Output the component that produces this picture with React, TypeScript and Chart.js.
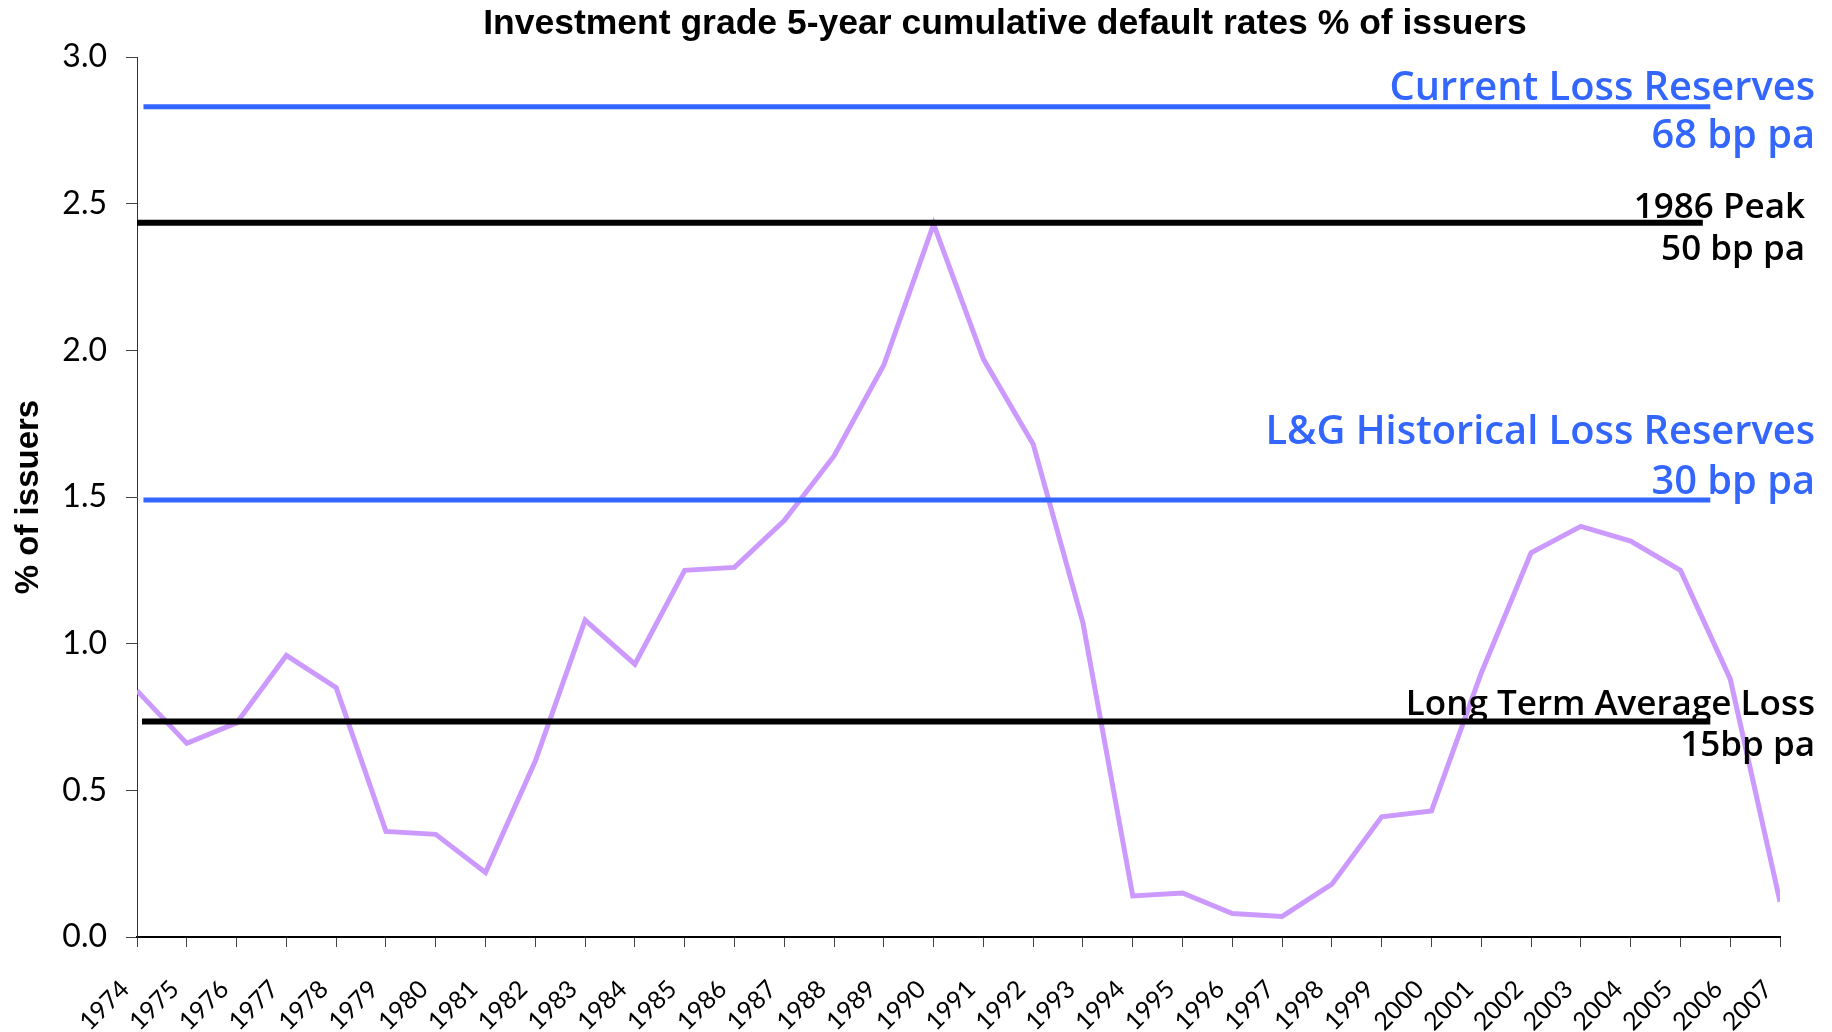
import React, { useEffect, useRef } from "react";
import { Chart, registerables } from "chart.js";

Chart.register(...registerables);

// ---------- data ----------
const years = [
  1974, 1975, 1976, 1977, 1978, 1979, 1980, 1981, 1982, 1983, 1984, 1985,
  1986, 1987, 1988, 1989, 1990, 1991, 1992, 1993, 1994, 1995, 1996, 1997,
  1998, 1999, 2000, 2001, 2002, 2003, 2004, 2005, 2006, 2007,
];
const yearLabels = years.map((y) => String(y));
const defaultRates = [
  0.84, 0.66, 0.73, 0.96, 0.85, 0.36, 0.35, 0.22, 0.6, 1.08, 0.93, 1.25,
  1.26, 1.42, 1.64, 1.95, 2.43, 1.97, 1.68, 1.07, 0.14, 0.15, 0.08, 0.07,
  0.18, 0.41, 0.43, 0.9, 1.31, 1.4, 1.35, 1.25, 0.88, 0.12,
];
const yTickValues = [0, 0.5, 1.0, 1.5, 2.0, 2.5, 3.0];

const refNames = [
  "Current Loss Reserves",
  "1986 Peak",
  "L&G Historical Loss Reserves",
  "Long Term Average Loss",
];
const refValues = [2.83, 2.435, 1.49, 0.735];
const refStartYears = [1974.13, 1974, 1974.13, 1974.1];
const refEndYears = [2005.6, 2005.45, 2005.6, 2005.6];
const refLabelLine1 = [
  "Current Loss Reserves",
  "1986 Peak",
  "L&G Historical Loss Reserves",
  "Long Term Average Loss",
];
const refLabelLine2 = ["68 bp pa", "50 bp pa", "30 bp pa", "15bp pa"];

const titleText = "Investment grade 5-year cumulative default rates % of issuers";
const yAxisTitle = "% of issuers";

// ---------- styles ----------
const PURPLE = "#cc99ff";
const BLUE = "#3366ff";
const BLACK = "#000000";
const refColors = [BLUE, BLACK, BLUE, BLACK];
const refWidths = [5, 6, 5, 6];
const refFonts = [
  "600 39.8px 'Open Sans', sans-serif",
  "600 35px 'Open Sans', sans-serif",
  "600 39.8px 'Open Sans', sans-serif",
  "600 35px 'Open Sans', sans-serif",
];
const refTextRight = [1815, 1805, 1815, 1815];
const refOffset1 = [-18, -15, -67, -16];
const refOffset2 = [30, 27, -17, 25];
const TICK_FONT_FAMILY = "Lato, 'Open Sans', sans-serif";

const annotationPlugin = {
  id: "refAnnotations",
  afterDraw(chart: any) {
    const ctx = chart.ctx;
    const yScale = chart.scales.y;
    const xScale = chart.scales.x;
    ctx.save();

    // x tick labels (rotated)
    ctx.font = `400 25px ${TICK_FONT_FAMILY}`;
    ctx.fillStyle = "#000";
    ctx.textAlign = "right";
    ctx.textBaseline = "middle";
    years.forEach((yr, i) => {
      const px = xScale.getPixelForValue(yr);
      ctx.save();
      ctx.translate(px - 12, chart.chartArea.bottom + 48);
      ctx.rotate(-Math.PI / 4);
      ctx.fillText(yearLabels[i], 0, 0);
      ctx.restore();
    });

    // reference line labels
    refValues.forEach((v, i) => {
      const py = yScale.getPixelForValue(v);
      ctx.font = refFonts[i];
      ctx.fillStyle = refColors[i];
      ctx.textAlign = "right";
      ctx.textBaseline = "middle";
      ctx.fillText(refLabelLine1[i], refTextRight[i], py + refOffset1[i]);
      ctx.fillText(refLabelLine2[i], refTextRight[i], py + refOffset2[i]);
    });

    // chart title
    ctx.font = "bold 35.5px 'Liberation Sans', Arial, sans-serif";
    ctx.fillStyle = "#000";
    ctx.textAlign = "center";
    ctx.textBaseline = "middle";
    ctx.fillText(titleText, 1005, 24);
    ctx.restore();
  },
};

export default function App() {
  const canvasRef = useRef<HTMLCanvasElement | null>(null);

  useEffect(() => {
    const canvas = canvasRef.current;
    if (!canvas) return;

    const refDatasets = refValues.map((v, i) => ({
      label: refNames[i],
      data: [
        { x: refStartYears[i], y: v },
        { x: refEndYears[i], y: v },
      ],
      borderColor: refColors[i],
      backgroundColor: refColors[i],
      borderWidth: refWidths[i],
      pointRadius: 0,
      borderCapStyle: "butt" as const,
      order: 1,
    }));

    const chart = new Chart(canvas, {
      type: "line",
      data: {
        datasets: [
          {
            label: "5-year cumulative default rate",
            data: years.map((yr, i) => ({ x: yr, y: defaultRates[i] })),
            borderColor: PURPLE,
            backgroundColor: PURPLE,
            borderWidth: 5,
            pointRadius: 0,
            tension: 0,
            order: 2,
          },
          ...refDatasets,
        ],
      },
      options: {
        animation: false,
        responsive: false,
        maintainAspectRatio: false,
        layout: { padding: { left: 0, top: 57, right: 52, bottom: 0 } },
        plugins: {
          legend: { display: false },
          tooltip: { enabled: false },
          title: { display: false },
        },
        scales: {
          x: {
            type: "linear",
            min: years[0],
            max: years[years.length - 1],
            afterFit(scale: any) {
              scale.height = 95;
            },
            afterBuildTicks(scale: any) {
              scale.ticks = years.map((y) => ({ value: y }));
            },
            ticks: {
              display: false,
              autoSkip: false,
            },
            grid: {
              display: true,
              drawOnChartArea: false,
              drawTicks: true,
              tickLength: 10,
              color: "#444",
              lineWidth: 1,
            },
            border: { display: true, color: "#000", width: 2 },
          },
          y: {
            type: "linear",
            min: 0,
            max: 3,
            afterFit(scale: any) {
              scale.width = 137;
            },
            afterBuildTicks(scale: any) {
              scale.ticks = yTickValues.map((v) => ({ value: v }));
            },
            ticks: {
              padding: 19,
              color: "#000",
              font: { family: TICK_FONT_FAMILY, size: 32, weight: "400" },
              callback: (v: any) => Number(v).toFixed(1),
            },
            grid: {
              display: true,
              drawOnChartArea: false,
              drawTicks: true,
              tickLength: 11,
              color: "#444",
              lineWidth: 1,
            },
            border: { display: true, color: "#333", width: 1 },
            title: {
              display: true,
              text: yAxisTitle,
              color: "#000",
              font: {
                family: "'Liberation Sans', Arial, sans-serif",
                size: 33,
                weight: "bold",
              },
              padding: { top: 9, bottom: 0 },
            },
          },
        },
      },
      plugins: [annotationPlugin],
    });

    return () => {
      chart.destroy();
    };
  }, []);

  return (
    <div
      style={{
        position: "fixed",
        left: 0,
        top: 0,
        width: 1832,
        height: 1032,
        background: "#fff",
      }}
    >
      <canvas ref={canvasRef} width={1832} height={1032} />
    </div>
  );
}
